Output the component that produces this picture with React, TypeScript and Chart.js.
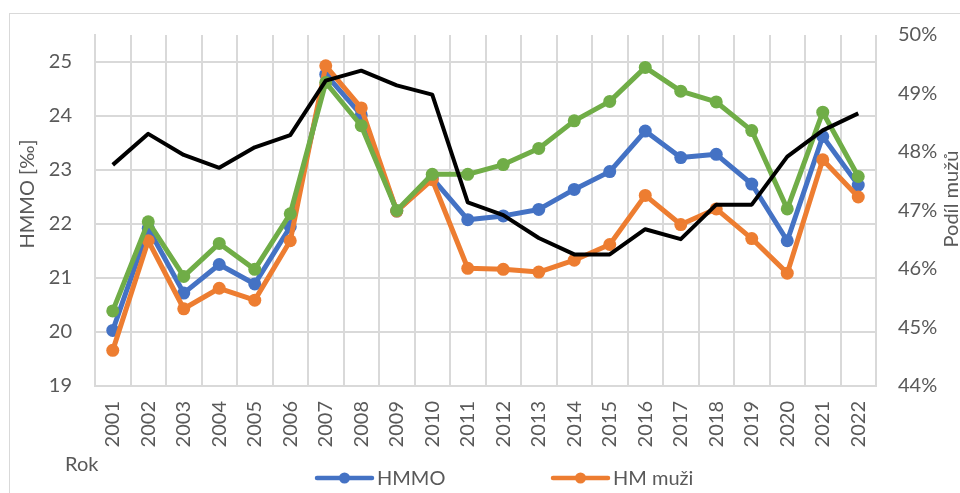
import React, { useEffect, useRef } from "react";
import { Chart, registerables } from "chart.js";

Chart.register(...registerables);

const years = ["2001", "2002", "2003", "2004", "2005", "2006", "2007", "2008", "2009", "2010", "2011", "2012", "2013", "2014", "2015", "2016", "2017", "2018", "2019", "2020", "2021", "2022"];
const hmmo = [20.03, 21.92, 20.72, 21.25, 20.89, 21.95, 24.77, 24.02, 22.24, 22.85, 22.08, 22.15, 22.27, 22.64, 22.97, 23.72, 23.23, 23.29, 22.74, 21.69, 23.62, 22.72];
const hmMuzi = [19.66, 21.69, 20.43, 20.81, 20.59, 21.69, 24.93, 24.15, 22.24, 22.82, 21.18, 21.16, 21.11, 21.33, 21.62, 22.53, 21.99, 22.28, 21.73, 21.09, 23.19, 22.50];
const hmZeny = [20.39, 22.04, 21.03, 21.64, 21.16, 22.19, 24.62, 23.82, 22.25, 22.92, 22.92, 23.10, 23.40, 23.91, 24.27, 24.90, 24.46, 24.26, 23.73, 22.28, 24.07, 22.88];
const podilMuzu = [47.78, 48.31, 47.95, 47.73, 48.08, 48.29, 49.22, 49.39, 49.14, 48.98, 47.14, 46.92, 46.53, 46.25, 46.25, 46.68, 46.51, 47.10, 47.10, 47.92, 48.37, 48.66];

const leftMin = 19;
const leftMax = 25.5;
const rightMin = 44;
const rightMax = 50;

const leftTitle = "HMMO [‰]";
const rightTitle = "Podíl mužů";
const xTitle = "Rok";

const FONT = "Lato, 'Open Sans', sans-serif";
const TEXT = "#595959";
const GRID = "#d9d9d9";

const decor = {
  id: "decor",
  afterDraw(chart: any) {
    const ctx = chart.ctx;
    ctx.save();
    ctx.fillStyle = TEXT;
    ctx.font = `20px ${FONT}`;
    ctx.textBaseline = "alphabetic";
    ctx.textAlign = "center";
    // left axis title
    ctx.save();
    ctx.translate(34, 194);
    ctx.rotate(-Math.PI / 2);
    ctx.fillText(leftTitle, 0, 0);
    ctx.restore();
    // right axis title
    ctx.save();
    ctx.translate(958, 199);
    ctx.rotate(-Math.PI / 2);
    ctx.fillText(rightTitle, 0, 0);
    ctx.restore();
    // x title
    ctx.textAlign = "left";
    ctx.fillText(xTitle, 65, 471);
    // legend (first two series)
    const starts = [317, 553];
    for (let i = 0; i < 2; i++) {
      const ds = chart.data.datasets[i];
      const x0 = starts[i];
      const y = 478;
      ctx.strokeStyle = ds.borderColor;
      ctx.lineWidth = 4.5;
      ctx.lineCap = "round";
      ctx.beginPath();
      ctx.moveTo(x0, y);
      ctx.lineTo(x0 + 55, y);
      ctx.stroke();
      ctx.fillStyle = ds.borderColor;
      ctx.beginPath();
      ctx.arc(x0 + 27.5, y, 5.5, 0, Math.PI * 2);
      ctx.fill();
      ctx.fillStyle = TEXT;
      ctx.fillText(ds.label, x0 + 60, 485);
    }
    ctx.restore();
  },
};

export default function App() {
  const ref = useRef<HTMLCanvasElement | null>(null);
  useEffect(() => {
    if (!ref.current) return;
    const mk = (label: string, data: number[], color: string, order: number) => ({
      label,
      data,
      borderColor: color,
      backgroundColor: color,
      borderWidth: 5,
      pointRadius: 6.5,
      pointBorderWidth: 0,
      pointBackgroundColor: color,
      borderJoinStyle: "round" as const,
      borderCapStyle: "round" as const,
      tension: 0,
      yAxisID: "y",
      order,
    });
    const chart = new Chart(ref.current, {
      type: "line",
      data: {
        labels: years,
        datasets: [
          mk("HMMO", hmmo, "#4472C4", 3),
          mk("HM muži", hmMuzi, "#ED7D31", 2),
          mk("HM ženy", hmZeny, "#70AD47", 1),
          {
            label: rightTitle,
            data: podilMuzu,
            borderColor: "#000000",
            backgroundColor: "#000000",
            borderWidth: 4,
            pointRadius: 0,
            borderJoinStyle: "round",
            tension: 0,
            yAxisID: "y1",
            order: 0,
          },
        ],
      },
      options: {
        responsive: false,
        animation: false,
        devicePixelRatio: 1,
        layout: { padding: { top: 31, left: 0, right: 0, bottom: 0 } },
        plugins: { legend: { display: false }, tooltip: { enabled: false } },
        scales: {
          x: {
            offset: true,
            grid: { offset: true, color: GRID, lineWidth: 2, drawTicks: false },
            border: { display: true, color: GRID, width: 2 },
            ticks: {
              autoSkip: false,
              minRotation: 90,
              maxRotation: 90,
              padding: 15,
              color: TEXT,
              font: { family: FONT, size: 20 },
            },
            afterFit: (s: any) => {
              s.height = 107;
            },
          },
          y: {
            position: "left",
            min: leftMin,
            max: leftMax,
            bounds: "data",
            grid: { color: GRID, lineWidth: 2, drawTicks: false },
            border: { display: true, color: GRID, width: 2 },
            ticks: {
              stepSize: 1,
              includeBounds: false,
              padding: 23,
              color: TEXT,
              font: { family: FONT, size: 20 },
            },
            afterFit: (s: any) => {
              s.width = 95;
            },
          },
          y1: {
            position: "right",
            min: rightMin,
            max: rightMax,
            grid: { drawOnChartArea: false, drawTicks: false },
            border: { display: false },
            ticks: {
              stepSize: 1,
              padding: 22,
              color: TEXT,
              font: { family: FONT, size: 20 },
              callback: (v: any) => `${Math.round(Number(v))}%`,
            },
            afterFit: (s: any) => {
              s.width = 84;
            },
          },
        },
      },
      plugins: [decor],
    });
    return () => chart.destroy();
  }, []);

  return (
    <div style={{ position: "fixed", left: 0, top: 0, width: 960, height: 493, overflow: "hidden", background: "#ffffff" }}>
      <div style={{ position: "absolute", left: 9, top: 13, width: 1100, height: 600, border: "1px solid #d9d9d9" }} />
      <canvas ref={ref} width={960} height={493} style={{ position: "absolute", left: 0, top: 0, width: 960, height: 493 }} />
    </div>
  );
}
